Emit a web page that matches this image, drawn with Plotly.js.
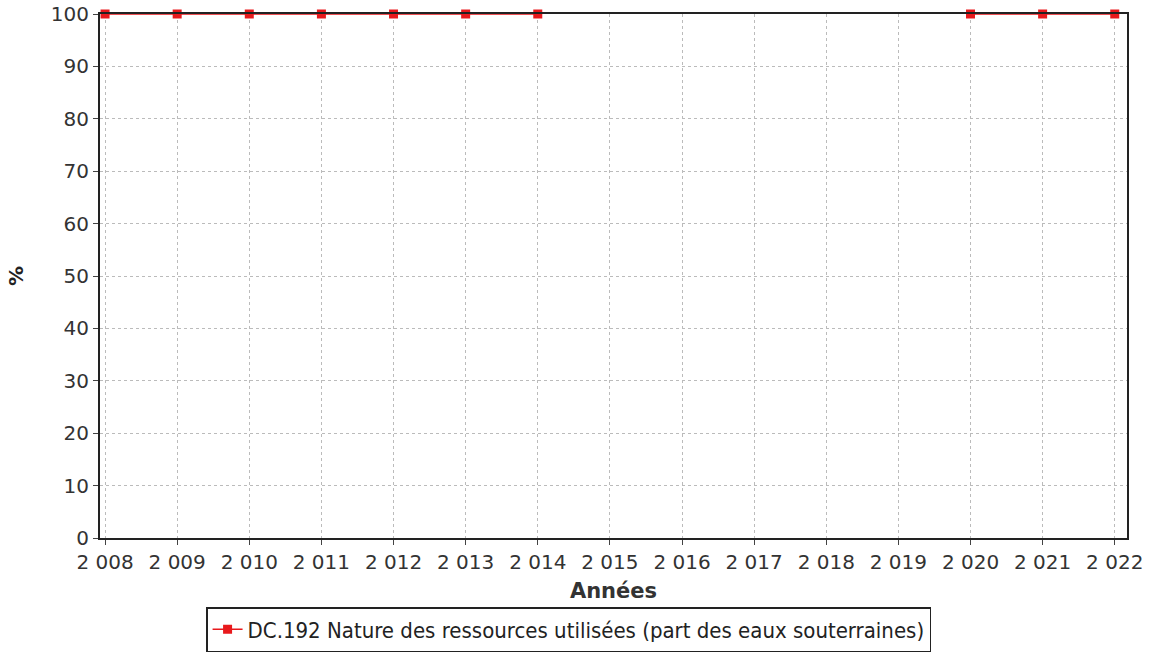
<!DOCTYPE html>
<html>
<head>
<meta charset="utf-8">
<script src="https://cdn.plot.ly/plotly-3.0.1.min.js"></script>
<style>html,body{margin:0;padding:0;background:#fff;}#chart{width:1158px;height:656px;}</style>
</head>
<body>
<div id="chart"></div>
<script>
const years = [2008, 2009, 2010, 2011, 2012, 2013, 2014, 2015, 2016, 2017, 2018, 2019, 2020, 2021, 2022];
const values = [100, 100, 100, 100, 100, 100, 100, null, null, null, null, null, 100, 100, 100];
const tickLabels = ["2 008", "2 009", "2 010", "2 011", "2 012", "2 013", "2 014", "2 015", "2 016", "2 017", "2 018", "2 019", "2 020", "2 021", "2 022"];
const yTicks = [0, 10, 20, 30, 40, 50, 60, 70, 80, 90, 100];
const seriesName = "DC.192 Nature des ressources utilisées (part des eaux souterraines)";

const trace = {
  x: years, y: values, type: "scatter", mode: "lines+markers",
  name: seriesName, connectgaps: false, cliponaxis: false,
  line: {color: "#e8191c", width: 1.5},
  marker: {symbol: "square", color: "#e8191c", size: 9}
};

const layout = {
  width: 1158, height: 656,
  margin: {l: 100, r: 31, t: 14, b: 118},
  paper_bgcolor: "#ffffff", plot_bgcolor: "#ffffff",
  font: {family: "DejaVu Sans, sans-serif", size: 16, color: "#333"},
  showlegend: true,
  legend: {
    orientation: "h", x: 0.491, xanchor: "center", xref: "container",
    y: 0.006, yanchor: "bottom", yref: "container",
    bordercolor: "#222", borderwidth: 1.5, bgcolor: "#fff",
    font: {family: "DejaVu Sans Condensed, DejaVu Sans, sans-serif", size: 22, color: "#222"}
  },
  xaxis: {
    range: [2007.93, 2022.17], tickvals: years, ticktext: tickLabels, automargin: false,
    showgrid: true, gridcolor: "#bbbbbb", griddash: "dot", gridwidth: 1,
    zeroline: false, showline: true, linecolor: "#222", linewidth: 2, mirror: true,
    ticks: "outside", ticklen: 5, tickcolor: "#444",
    tickfont: {size: 20, color: "#333"},
    title: {text: "Années", font: {size: 21, color: "#333", weight: "bold"}, standoff: 10}
  },
  yaxis: {
    range: [0, 100], tickvals: yTicks, automargin: false,
    showgrid: true, gridcolor: "#bbbbbb", griddash: "dot", gridwidth: 1,
    zeroline: false, showline: true, linecolor: "#222", linewidth: 2, mirror: true,
    ticks: "outside", ticklen: 5, tickcolor: "#444",
    tickfont: {size: 20, color: "#333"},
    title: {text: "%", font: {size: 20, color: "#222", weight: "bold"}, standoff: 22}
  }
};

Plotly.newPlot("chart", [trace], layout, {displayModeBar: false, staticPlot: true});
</script>
</body>
</html>
